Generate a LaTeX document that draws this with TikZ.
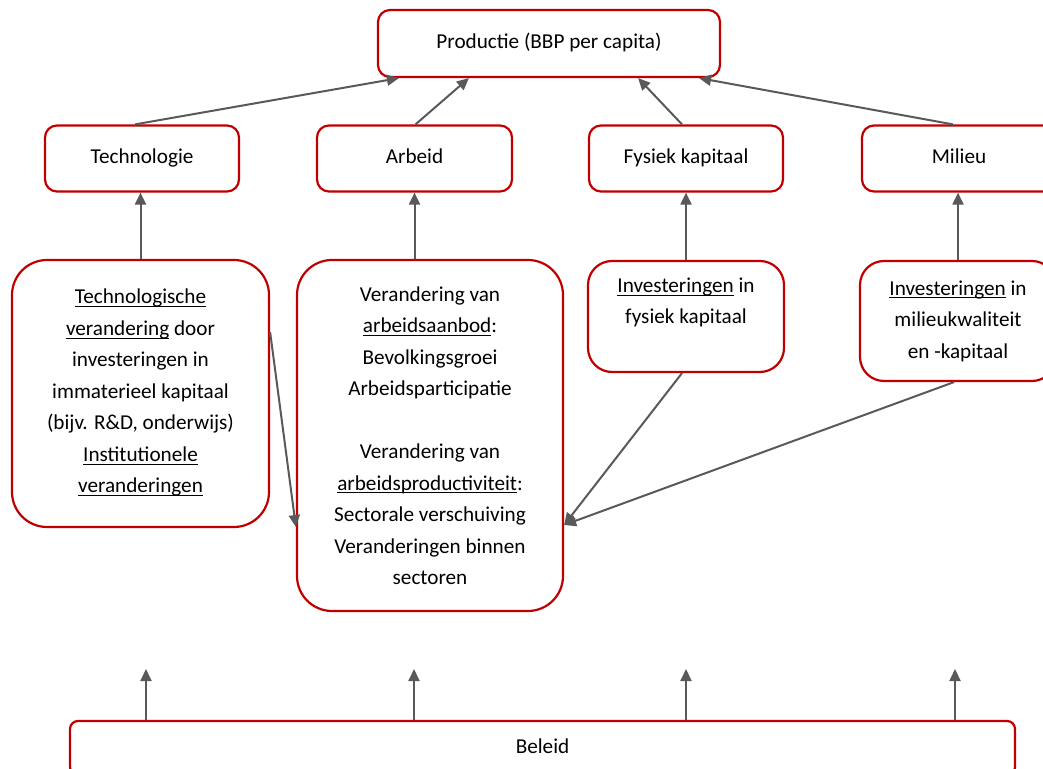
\documentclass[tikz,border=0pt]{standalone}
\usepackage{fontspec}
\setmainfont{Carlito}
\usepackage{tikz}
\usetikzlibrary{arrows.meta, positioning}

\definecolor{rood}{HTML}{C00000}
\definecolor{lijngrijs}{HTML}{595959}
\newcommand{\ondstr}[1]{\underline{\smash{#1}}\vphantom{Tg}}

\begin{document}
\begin{tikzpicture}[
      x=0.5pt, y=-0.5pt,
      every node/.style = {font=\fontsize{10.6}{15.75}\selectfont},
      blok/.style = {shape=rectangle, draw=rood, line width=1.1pt,
        rounded corners=6pt, fill=white, align=center, inner sep=0pt},
      enkel/.style = {text height=7.5pt, text depth=2.5pt},
      pijl/.style = {draw=lijngrijs, line width=1pt,
        -{Triangle[length=6pt, width=5.5pt]}}
    ]
      \useasboundingbox (0,0) rectangle (1043,769);

      % bovenste rij
      \node[blok, enkel, minimum width=171pt, minimum height=33.5pt] (prod) at (549,43.5) {Productie (BBP per capita)};

      \node[blok, enkel, minimum width=97pt, minimum height=33pt] (tech) at (142,158.5) {Technologie};
      \node[blok, enkel, minimum width=97.5pt, minimum height=33pt] (arbeid) at (414.5,158.5) {Arbeid};
      \node[blok, enkel, minimum width=97pt, minimum height=33pt] (fysiek) at (686,158.5) {Fysiek kapitaal};
      \node[blok, enkel, minimum width=97pt, minimum height=33pt] (milieu) at (959,158.5) {Milieu};

      % bronnen
      \node[blok, rounded corners=17.5pt, minimum width=128.5pt, minimum height=133.5pt] (techbron) at (140.5,393.5)
        {\ondstr{Technologische}\\ \ondstr{verandering} door\\ investeringen in\\ immaterieel kapitaal\\
         (bijv. R\&D, onderwijs)\\ \ondstr{Institutionele}\\ \ondstr{veranderingen}};
      \node[blok, rounded corners=17.5pt, minimum width=133pt, minimum height=175.5pt] (arbeidbron) at (430,435.5)
        {Verandering van\\ \ondstr{arbeidsaanbod}:\\ Bevolkingsgroei\\ Arbeidsparticipatie\\[15.75pt]
         Verandering van\\ \ondstr{arbeidsproductiviteit}:\\ Sectorale verschuiving\\ Veranderingen binnen\\ sectoren};
      \node[blok, rounded corners=12pt, minimum width=98pt, minimum height=55.5pt] (fysiekbron) at (686,316.5)
        {\ondstr{Investeringen} in\\ fysiek kapitaal\\ \mbox{}};
      \node[blok, rounded corners=12pt, minimum width=98pt, minimum height=60pt] (milieubron) at (958,321)
        {\ondstr{Investeringen} in\\ milieukwaliteit\\ en -kapitaal};

      \node[blok, enkel, rounded corners=4pt, minimum width=472.5pt, minimum height=27pt] (beleid) at (542.5,748) {Beleid};

      % pijlen naar productie
      \draw[pijl] ([xshift=-3.5pt]tech.north) -- ([xshift=11pt]prod.south west);
      \draw[pijl] ([xshift=0.5pt]arbeid.north) -- ([xshift=46pt]prod.south west);
      \draw[pijl] ([xshift=-2pt]fysiek.north) -- ([xshift=-41.5pt]prod.south east);
      \draw[pijl] ([xshift=-3pt]milieu.north) -- ([xshift=-11pt]prod.south east);

      % pijlen naar de factoren
      \draw[pijl] (techbron.north) -- (techbron.north |- tech.south);
      \draw[pijl] (arbeidbron.north -| arbeid.south) -- (arbeid.south);
      \draw[pijl] (fysiekbron.north) -- (fysiekbron.north |- fysiek.south);
      \draw[pijl] (milieubron.north) -- (milieubron.north |- milieu.south);

      % pijlen naar arbeid
      \draw[pijl] ([yshift=30.75pt]techbron.east) -- ([yshift=-45.75pt]arbeidbron.west);
      \draw[pijl] ([xshift=-2pt]fysiekbron.south) -- ([yshift=-44.75pt]arbeidbron.east);
      \draw[pijl] ([xshift=-2pt]milieubron.south) -- ([yshift=-44.75pt]arbeidbron.east);

      % pijlen vanuit beleid
      \foreach \x [count=\i] in {146,414,686,955} {
        \coordinate (b\i) at (\x,669);
        \draw[pijl] (b\i |- beleid.north) -- (b\i);
      }
    \end{tikzpicture}
\end{document}
